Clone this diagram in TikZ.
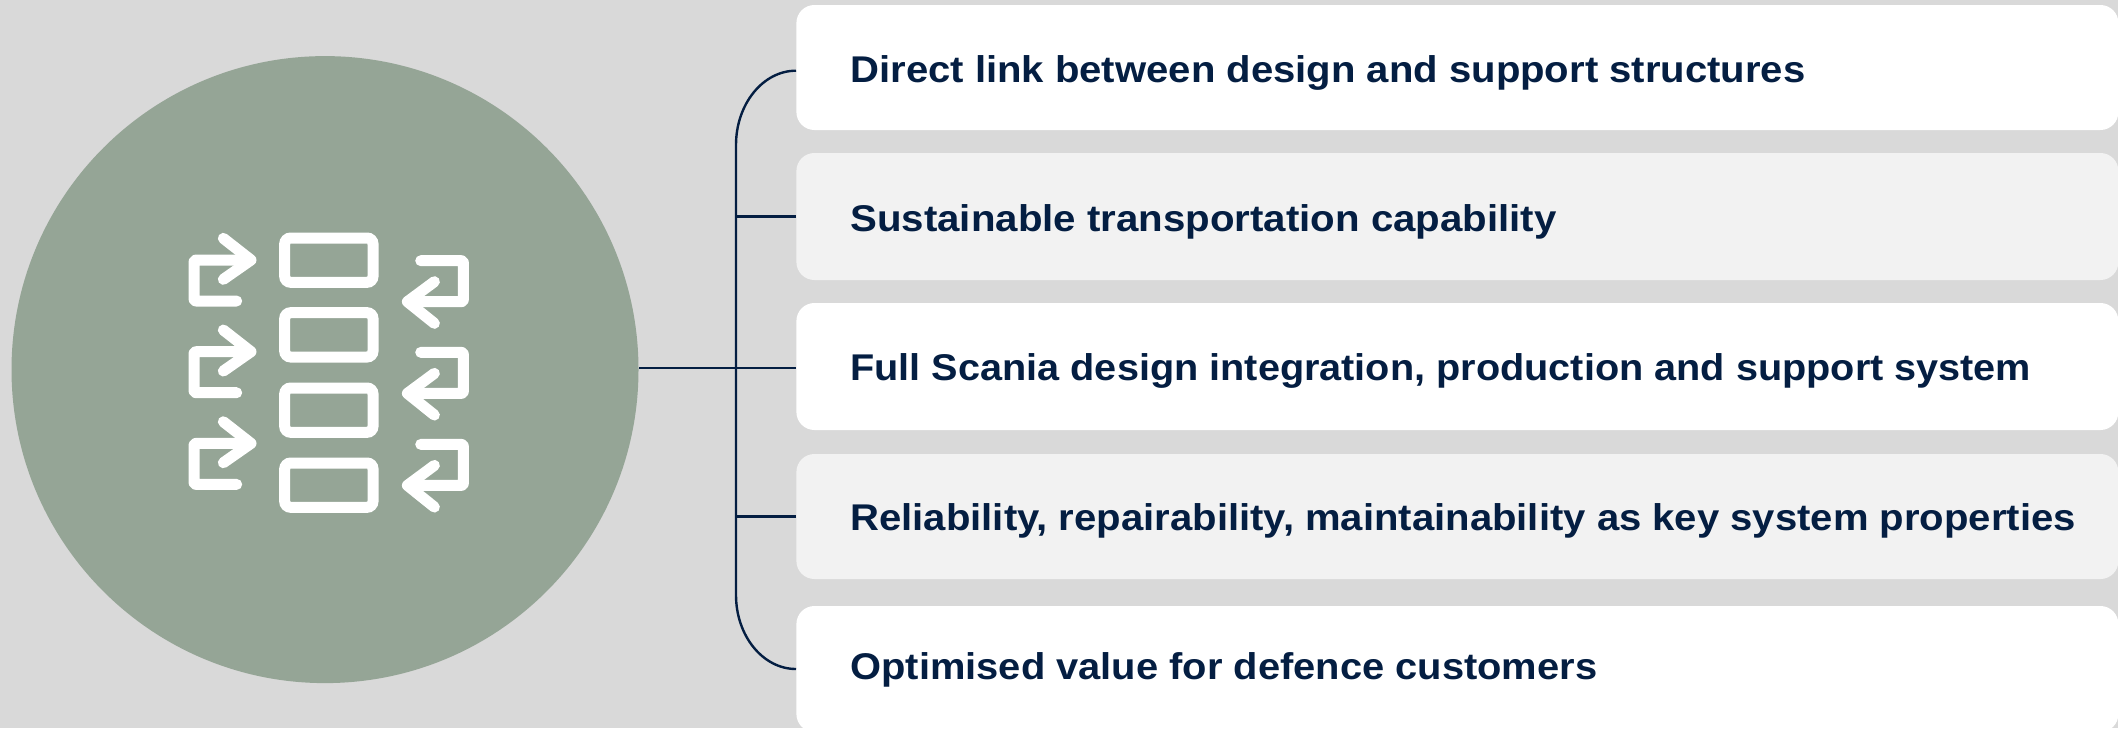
\documentclass[tikz,border=0pt]{standalone}
\usepackage{fontspec}
\usepackage{graphicx}
\usetikzlibrary{calc}
\setmainfont{Liberation Sans}[BoldFont={Liberation Sans Bold},FakeStretch=1.06]
\definecolor{bg}{HTML}{D9D9D9}
\definecolor{sage}{HTML}{95A596}
\definecolor{navy}{HTML}{041E42}
\definecolor{pale}{HTML}{F2F2F2}
\tikzset{
  x=0.5pt,y=-0.5pt,
  panel/.style={rectangle,rounded corners=9pt,inner sep=0pt,minimum width=661pt,anchor=west},
  lbl/.style={anchor=base west,inner sep=0pt,text=navy,font=\fontsize{18.6}{22}\selectfont\bfseries},
  conn/.style={draw=navy,line width=1.2pt},
  glyph/.style={draw=white,line width=5.5pt,line cap=round,line join=round,rounded corners=1pt},
  slot/.style={draw=white,line width=5.5pt,rounded corners=3pt},
}
\begin{document}
\begin{tikzpicture}
\useasboundingbox (0,0) rectangle (2118,728);
\fill[bg] (0,0) rectangle (2118,728);
\node[circle,fill=sage,inner sep=0pt,minimum size=313.5pt] (hub) at (325,369.6) {};
\node[panel,fill=white,minimum height=62.5pt] (b1) at (796,67.5) {};
\node[panel,fill=pale,minimum height=63.5pt] (b2) at (796,216.5) {};
\node[panel,fill=white,minimum height=63.5pt] (b3) at (796,366.5) {};
\node[panel,fill=pale,minimum height=62.5pt] (b4) at (796,516.5) {};
\node[panel,fill=white,minimum height=63pt] (b5) at (796,669) {};
\node[lbl] (t1) at (850,82.5) {\scalebox{1.016}[1]{Direct link between design and support structures}};
\node[lbl] (t2) at (850,231) {\scalebox{1.020}[1]{Sustainable transportation capability}};
\node[lbl] (t3) at (850,380) {\scalebox{1.0055}[1]{Full Scania design integration, production and support system}};
\node[lbl] (t4) at (850,530) {\scalebox{1.016}[1]{Reliability, repairability, maintainability as key system properties}};
\node[lbl] (t5) at (850,679) {\scalebox{1.0113}[1]{Optimised value for defence customers}};
\coordinate (spinetop) at (736,145);
\coordinate (spinebot) at (736,595);
\draw[conn] ($(b1.west)+(0,3.2)$) .. controls (763,70.7) and (736,104) .. (spinetop) -- (spinebot) .. controls (736,636) and (763,669) .. (b5.west);
\draw[conn] (b2.west) -- (b2.west -| spinetop);
\draw[conn] (b4.west) -- (b4.west -| spinetop);
\draw[conn] ($(hub.east |- b3.west)+(0,1.5)$) -- ($(b3.west)+(0,1.5)$);
% icon
\foreach \yy in {238,312.7,388,463}
  \draw[slot] (284.7,\yy) rectangle (373,\yy+44.3);
\begin{scope}[shift={(170,210)},x=0.1667pt,y=-0.1667pt]
\foreach \d in {0,275,550}{
  \draw[glyph] (200,273+\d) -- (72,273+\d) -- (72,150+\d) -- (235,150+\d);
  \draw[glyph,rounded corners=0pt] (160,85+\d) -- (243,150+\d) -- (160,208+\d);
}
\foreach \d in {0,275,551}{
  \draw[glyph] (752,152+\d) -- (880,152+\d) -- (880,275+\d) -- (720,275+\d);
  \draw[glyph,rounded corners=0pt] (793,215+\d) -- (712,275+\d) -- (793,340+\d);
}
\end{scope}
\end{tikzpicture}
\end{document}
